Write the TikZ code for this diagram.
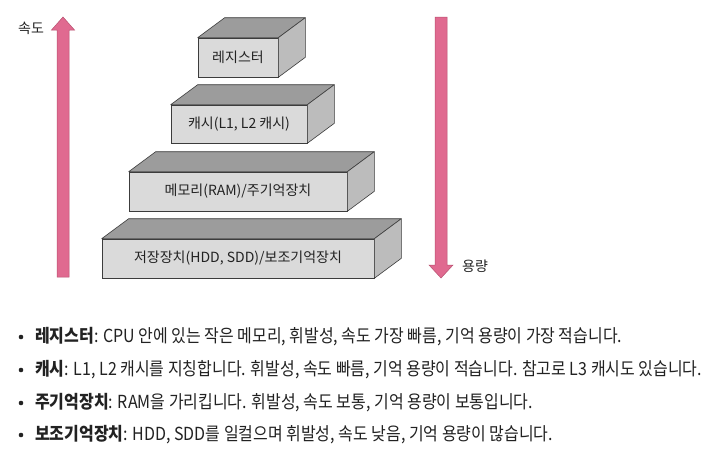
\documentclass[tikz,border=0pt]{standalone}
\usepackage{fontspec}
\usetikzlibrary{calc}
\setmainfont{Noto Sans CJK KR}
\newfontfamily\krbody[FakeStretch=0.888]{Noto Sans CJK KR}
\definecolor{arrowpink}{HTML}{E06A90}
\definecolor{arrowedge}{HTML}{B8506F}
\definecolor{frontgray}{HTML}{DADADA}
\definecolor{topgray}{HTML}{9C9C9C}
\definecolor{sidegray}{HTML}{BCBCBC}
\definecolor{edgegray}{HTML}{3C3C3C}
\definecolor{textdark}{HTML}{222222}
\begin{document}
\begin{tikzpicture}[x=1pt,y=-1pt,
  front/.style={draw=edgegray, line width=0.6pt, fill=frontgray, inner sep=0pt,
    font=\fontsize{14}{16}\selectfont, text=textdark},
  topface/.style={draw=edgegray, line width=0.6pt, fill=topgray, line join=round},
  sideface/.style={draw=edgegray, line width=0.6pt, fill=sidegray, line join=round},
  bigarrow/.style={fill=arrowpink, draw=arrowedge, line width=0.5pt, line join=miter},
  axislabel/.style={font=\fontsize{14}{16}\selectfont, text=textdark, inner sep=0pt},
  bodyline/.style={anchor=west, inner sep=0pt, font=\krbody\fontsize{18}{20}\selectfont, text=textdark},
  bulletdot/.style={circle, fill=textdark, inner sep=0pt, minimum size=4.6pt}
]
\useasboundingbox (0,0) rectangle (709,453);
\fill[white] (0,0) rectangle (709,453);

% ---- boxes: front faces as nodes ----
\node[front, minimum width=80pt, minimum height=39pt] (b1) at (238,57.5) {레지스터};
\node[front, minimum width=136pt, minimum height=38pt] (b2) at (239,124) {캐시(L1, L2 캐시)};
\node[front, minimum width=218pt, minimum height=39pt] (b3) at (238,191.5) {메모리(RAM)/주기억장치};
\node[front, minimum width=272pt, minimum height=39pt] (b4) at (238,258.5) {저장장치(HDD, SDD)/보조기억장치};

\foreach \b in {b1,b2,b3,b4}{
  \draw[topface] (\b.north west) -- ++(27,-20) -- ($(\b.north east)+(27,-20)$) -- (\b.north east) -- cycle;
  \draw[sideface] (\b.north east) -- ++(27,-20) -- ($(\b.south east)+(27,-20)$) -- (\b.south east) -- cycle;
}

% ---- arrows ----
\coordinate (lt) at (63,17);
\coordinate (lb) at (63,277);
\draw[bigarrow] ($(lb)+(-6,0)$) -- ++(0,-247) -- ++(-5.5,0) -- (lt) -- ($(lb)+(11.5,-247)$) -- ++(-5.5,0) -- ($(lb)+(6,0)$) -- cycle;
\coordinate (rt) at (441,17);
\coordinate (rb) at (441,278);
\draw[bigarrow] ($(rt)+(-6,0)$) -- ++(0,248) -- ++(-6,0) -- (rb) -- ($(rt)+(12,248)$) -- ++(-6,0) -- ($(rt)+(6,0)$) -- cycle;

\node[axislabel] (speed) at (31,28) {속도};
\node[axislabel] (cap) at (475,266) {용량};

% ---- bullet list ----
\node[bulletdot] (d1) at (21,337) {};
\node[bulletdot] (d2) at (21,370) {};
\node[bulletdot] (d3) at (21,403) {};
\node[bulletdot] (d4) at (21,435) {};
\node[bodyline] (t1) at (35,337) {\textbf{레지스터}: CPU 안에 있는 작은 메모리, 휘발성, 속도 가장 빠름, 기억 용량이 가장 적습니다.};
\node[bodyline] (t2) at (35,370) {\textbf{캐시}: L1, L2 캐시를 지칭합니다. 휘발성, 속도 빠름, 기억 용량이 적습니다. 참고로 L3 캐시도 있습니다.};
\node[bodyline] (t3) at (35,403) {\textbf{주기억장치}: RAM을 가리킵니다. 휘발성, 속도 보통, 기억 용량이 보통입니다.};
\node[bodyline] (t4) at (35,435) {\textbf{보조기억장치}: HDD, SDD를 일컬으며 휘발성, 속도 낮음, 기억 용량이 많습니다.};
\end{tikzpicture}
\end{document}
